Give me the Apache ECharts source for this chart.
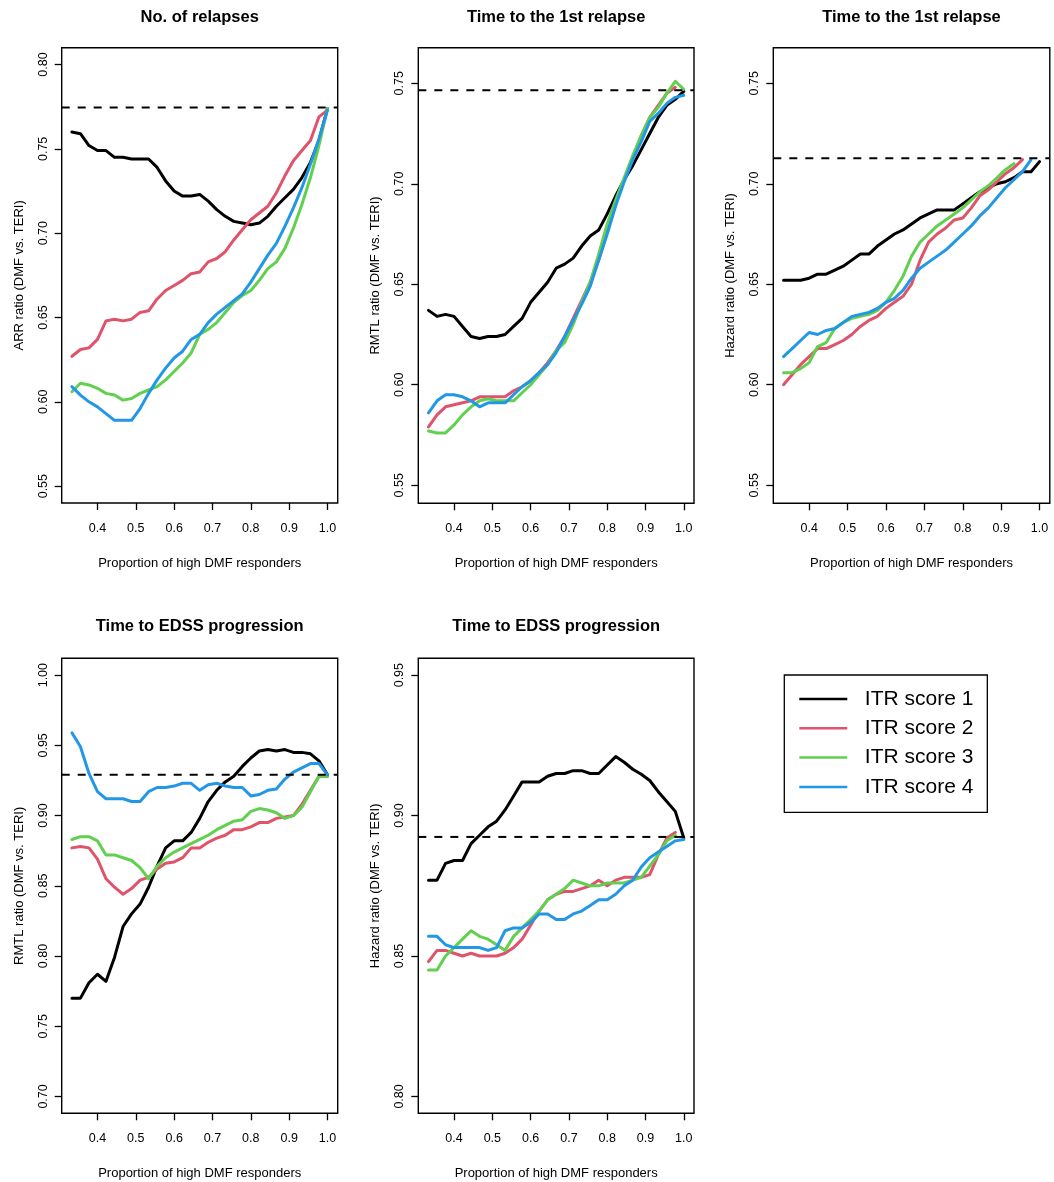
<!DOCTYPE html>
<html>
<head>
<meta charset="utf-8">
<script src="https://cdn.jsdelivr.net/npm/echarts@6/dist/echarts.min.js"></script>
<style>
html,body{margin:0;padding:0;background:#ffffff;}
#chart{width:1054px;height:1182px;}
</style>
</head>
<body>
<div id="chart"></div>
<script>
// ---------------- DATA ----------------
const xs = [0.3333,0.3556,0.3778,0.4,0.4222,0.4444,0.4667,0.4889,0.5111,0.5333,0.5556,0.5778,0.6,0.6222,0.6444,0.6667,0.6889,0.7111,0.7333,0.7556,0.7778,0.8,0.8222,0.8444,0.8667,0.8889,0.9111,0.9333,0.9556,0.9778,1.0];
const xTicks = [0.4,0.5,0.6,0.7,0.8,0.9,1.0];
const seriesNames = ['ITR score 1','ITR score 2','ITR score 3','ITR score 4'];

// Panel 1: No. of relapses (ARR ratio)
const relapsesITR1 = [0.760,0.759,0.752,0.749,0.749,0.745,0.745,0.744,0.744,0.744,0.739,0.731,0.725,0.722,0.722,0.723,0.719,0.714,0.710,0.707,0.706,0.705,0.706,0.710,0.716,0.721,0.726,0.733,0.742,0.755,0.774];
const relapsesITR2 = [0.627,0.631,0.632,0.637,0.648,0.649,0.648,0.649,0.653,0.654,0.661,0.666,0.669,0.672,0.676,0.677,0.683,0.685,0.689,0.696,0.702,0.708,0.712,0.716,0.724,0.734,0.743,0.749,0.755,0.769,0.773];
const relapsesITR3 = [0.606,0.611,0.610,0.608,0.605,0.604,0.601,0.602,0.605,0.607,0.609,0.613,0.618,0.623,0.629,0.640,0.643,0.647,0.653,0.659,0.663,0.666,0.672,0.679,0.683,0.691,0.703,0.717,0.733,0.752,0.774];
const relapsesITR4 = [0.609,0.604,0.600,0.597,0.593,0.589,0.589,0.589,0.596,0.605,0.613,0.620,0.626,0.630,0.637,0.640,0.647,0.652,0.656,0.660,0.664,0.671,0.679,0.687,0.694,0.704,0.715,0.727,0.741,0.756,0.773];
const relapsesRef = 0.7745;
const relapsesTicks = [0.55,0.60,0.65,0.70,0.75,0.80];

// Panel 2: Time to the 1st relapse (RMTL ratio)
const rmtlRelapseITR1 = [0.637,0.634,0.635,0.634,0.629,0.624,0.623,0.624,0.624,0.625,0.629,0.633,0.641,0.646,0.651,0.658,0.660,0.663,0.669,0.674,0.677,0.685,0.694,0.702,0.709,0.717,0.725,0.733,0.739,0.742,0.746];
const rmtlRelapseITR2 = [0.579,0.585,0.589,0.590,0.591,0.592,0.594,0.594,0.594,0.594,0.597,0.599,0.602,0.606,0.611,0.617,0.624,0.633,0.642,0.651,0.662,0.676,0.690,0.702,0.713,0.724,0.733,0.739,0.745,0.748];
const rmtlRelapseITR3 = [0.577,0.576,0.576,0.580,0.585,0.589,0.592,0.593,0.592,0.592,0.592,0.596,0.600,0.605,0.610,0.617,0.621,0.630,0.641,0.651,0.665,0.680,0.692,0.703,0.714,0.724,0.733,0.738,0.745,0.751,0.747];
const rmtlRelapseITR4 = [0.586,0.592,0.595,0.595,0.594,0.592,0.589,0.591,0.591,0.591,0.595,0.599,0.602,0.606,0.610,0.616,0.624,0.632,0.640,0.649,0.662,0.675,0.689,0.701,0.712,0.721,0.731,0.735,0.740,0.743,0.744];
const rmtlRelapseRef = 0.7465;
const rmtlRelapseTicks = [0.55,0.60,0.65,0.70,0.75];

// Panel 3: Time to the 1st relapse (Hazard ratio)
const hrRelapseITR1 = [0.652,0.652,0.652,0.653,0.655,0.655,0.657,0.659,0.662,0.665,0.665,0.669,0.672,0.675,0.677,0.680,0.683,0.685,0.687,0.687,0.687,0.690,0.693,0.696,0.698,0.700,0.701,0.703,0.706,0.706,0.711];
const hrRelapseITR2 = [0.600,0.605,0.610,0.614,0.618,0.618,0.620,0.622,0.625,0.629,0.632,0.634,0.638,0.641,0.644,0.650,0.662,0.671,0.675,0.678,0.682,0.683,0.688,0.694,0.697,0.701,0.705,0.708,0.712];
const hrRelapseITR3 = [0.606,0.606,0.608,0.611,0.619,0.621,0.628,0.631,0.633,0.634,0.635,0.637,0.641,0.647,0.654,0.664,0.671,0.675,0.679,0.682,0.685,0.688,0.692,0.696,0.699,0.703,0.707,0.710];
const hrRelapseITR4 = [0.614,0.618,0.622,0.626,0.625,0.627,0.628,0.631,0.634,0.635,0.636,0.638,0.641,0.643,0.647,0.653,0.658,0.661,0.664,0.667,0.671,0.675,0.679,0.684,0.688,0.693,0.698,0.702,0.706,0.712];
const hrRelapseRef = 0.7127;
const hrRelapseTicks = [0.55,0.60,0.65,0.70,0.75];

// Panel 4: Time to EDSS progression (RMTL ratio)
const rmtlEdssITR1 = [0.770,0.770,0.781,0.787,0.782,0.799,0.821,0.830,0.837,0.849,0.864,0.877,0.882,0.882,0.888,0.898,0.910,0.918,0.924,0.928,0.935,0.941,0.946,0.947,0.946,0.947,0.945,0.945,0.944,0.939,0.929];
const rmtlEdssITR2 = [0.877,0.878,0.877,0.869,0.855,0.849,0.844,0.848,0.854,0.856,0.862,0.866,0.867,0.870,0.877,0.877,0.881,0.884,0.886,0.890,0.890,0.892,0.895,0.895,0.898,0.899,0.900,0.908,0.918,0.928,0.928];
const rmtlEdssITR3 = [0.883,0.885,0.885,0.882,0.872,0.872,0.870,0.868,0.863,0.855,0.864,0.870,0.874,0.877,0.880,0.883,0.886,0.890,0.893,0.896,0.897,0.903,0.905,0.904,0.902,0.898,0.900,0.906,0.917,0.928,0.928];
const rmtlEdssITR4 = [0.959,0.949,0.930,0.917,0.912,0.912,0.912,0.910,0.910,0.917,0.920,0.920,0.921,0.923,0.923,0.918,0.922,0.923,0.921,0.920,0.920,0.914,0.915,0.918,0.919,0.926,0.931,0.934,0.937,0.937,0.929];
const rmtlEdssRef = 0.929;
const rmtlEdssTicks = [0.70,0.75,0.80,0.85,0.90,0.95,1.00];

// Panel 5: Time to EDSS progression (Hazard ratio)
const hrEdssITR1 = [0.877,0.877,0.883,0.884,0.884,0.890,0.893,0.896,0.898,0.902,0.907,0.912,0.912,0.912,0.914,0.915,0.915,0.916,0.916,0.915,0.915,0.918,0.921,0.919,0.9165,0.9147,0.9125,0.9085,0.905,0.9015,0.892];
const hrEdssITR2 = [0.848,0.852,0.852,0.851,0.850,0.851,0.850,0.850,0.850,0.851,0.853,0.856,0.861,0.866,0.870,0.872,0.873,0.873,0.874,0.875,0.877,0.875,0.877,0.878,0.878,0.878,0.879,0.886,0.892,0.894];
const hrEdssITR3 = [0.845,0.845,0.850,0.853,0.856,0.859,0.857,0.856,0.854,0.852,0.857,0.860,0.863,0.866,0.870,0.872,0.874,0.877,0.876,0.875,0.875,0.876,0.876,0.876,0.877,0.878,0.882,0.886,0.891,0.893];
const hrEdssITR4 = [0.857,0.857,0.854,0.853,0.853,0.853,0.853,0.852,0.853,0.859,0.860,0.860,0.862,0.865,0.865,0.863,0.863,0.865,0.866,0.868,0.870,0.870,0.872,0.875,0.877,0.8817,0.885,0.887,0.889,0.891,0.8915];
const hrEdssRef = 0.8924;
const hrEdssTicks = [0.80,0.85,0.90,0.95];

const panelTitles = ['No. of relapses','Time to the 1st relapse','Time to the 1st relapse','Time to EDSS progression','Time to EDSS progression'];
const yTitles = ['ARR ratio (DMF vs. TERI)','RMTL ratio (DMF vs. TERI)','Hazard ratio (DMF vs. TERI)','RMTL ratio (DMF vs. TERI)','Hazard ratio (DMF vs. TERI)'];
const xTitle = 'Proportion of high DMF responders';

const panelSeries = [
  [relapsesITR1, relapsesITR2, relapsesITR3, relapsesITR4],
  [rmtlRelapseITR1, rmtlRelapseITR2, rmtlRelapseITR3, rmtlRelapseITR4],
  [hrRelapseITR1, hrRelapseITR2, hrRelapseITR3, hrRelapseITR4],
  [rmtlEdssITR1, rmtlEdssITR2, rmtlEdssITR3, rmtlEdssITR4],
  [hrEdssITR1, hrEdssITR2, hrEdssITR3, hrEdssITR4]
];
const panelRefs = [relapsesRef, rmtlRelapseRef, hrRelapseRef, rmtlEdssRef, hrEdssRef];
const panelTicks = [relapsesTicks, rmtlRelapseTicks, hrRelapseTicks, rmtlEdssTicks, hrEdssTicks];

// ---------------- LAYOUT / STYLE ----------------
const xMin = 0.30667, xMax = 1.02667;
const yRanges = [[0.54,0.81],[0.541,0.7677],[0.541,0.7677],[0.688,1.012],[0.794,0.956]];
const gridBoxes = [
  {left:61.7, top:47.7, width:276, height:455.3},
  {left:418.3, top:47.7, width:275.7, height:455.6},
  {left:773.3, top:47.7, width:276.5, height:455.6},
  {left:61.7, top:658.3, width:276, height:455},
  {left:418.3, top:658.3, width:275.7, height:455}
];
const titlePos = [[199.7,8.5],[556.2,8.5],[911.5,8.5],[199.7,618],[556.2,618]];
const colors = ['#000000','#DF536B','#61D04F','#2297E6'];
const fontFamily = '"Liberation Sans", Arial, Helvetica, sans-serif';

const grids = [], xAxes = [], yAxes = [], series = [], titles = [];
for (let i = 0; i < 5; i++) {
  grids.push(Object.assign({show:true, borderColor:'#000', borderWidth:1.4, backgroundColor:'transparent'}, gridBoxes[i]));
  titles.push({
    text: panelTitles[i], left: titlePos[i][0], top: titlePos[i][1], textAlign:'center', padding:0,
    textStyle:{fontSize:16.5, fontWeight:'bold', color:'#000', fontFamily}
  });
  xAxes.push({
    gridIndex:i, type:'value', min:xMin, max:xMax,
    axisLine:{show:false, onZero:false}, splitLine:{show:false},
    axisTick:{show:true, customValues:xTicks, length:7, lineStyle:{color:'#000', width:1.3}},
    axisLabel:{customValues:xTicks, formatter:(v)=>v.toFixed(1), margin:19, fontSize:12.5, color:'#000', fontFamily},
    name:xTitle, nameLocation:'middle', nameGap:53.5,
    nameTextStyle:{fontSize:13, color:'#000', fontFamily}
  });
  const ticks = panelTicks[i];
  yAxes.push({
    gridIndex:i, type:'value', min:yRanges[i][0], max:yRanges[i][1],
    axisLine:{show:false, onZero:false}, splitLine:{show:false},
    axisTick:{show:true, customValues:ticks, length:7, lineStyle:{color:'#000', width:1.3}},
    axisLabel:{customValues:ticks, formatter:(v)=>v.toFixed(2), rotate:90, margin:12, fontSize:12.5, color:'#000', fontFamily},
    name:yTitles[i], nameLocation:'middle', nameGap:36,
    nameTextStyle:{fontSize:13, color:'#000', fontFamily}
  });
  panelSeries[i].forEach((ys, j) => {
    const data = [];
    for (let k = 0; k < ys.length; k++) data.push([xs[k], ys[k]]);
    series.push({
      type:'line', name:seriesNames[j], xAxisIndex:i, yAxisIndex:i, data,
      symbol:'none', showSymbol:false, animation:false,
      lineStyle:{width:3, color:colors[j], join:'round', cap:'round'},
      itemStyle:{color:colors[j]}, emphasis:{disabled:true}, z:2+j
    });
  });
  series.push({
    type:'line', name:'Reference (TERI)', xAxisIndex:i, yAxisIndex:i,
    data:[[xMin, panelRefs[i]],[xMax, panelRefs[i]]],
    symbol:'none', showSymbol:false, animation:false,
    lineStyle:{width:2, color:'#000', type:[8,8]}, emphasis:{disabled:true}, z:10
  });
}

const chart = echarts.init(document.getElementById('chart'), null, {renderer:'canvas'});
chart.setOption({
  backgroundColor:'#ffffff',
  animation:false,
  title: titles,
  grid: grids,
  xAxis: xAxes,
  yAxis: yAxes,
  legend: {
    data: seriesNames, orient:'vertical', left:784.3, top:675,
    icon:'rect', itemWidth:48, itemHeight:2.5, itemGap:8.3,
    borderColor:'#000', borderWidth:1.3, padding:[13.5,14,15,15],
    selectedMode:false,
    textStyle:{fontSize:21, color:'#000', fontFamily, padding:[0,0,0,12.5]}
  },
  series
});
</script>
</body>
</html>
